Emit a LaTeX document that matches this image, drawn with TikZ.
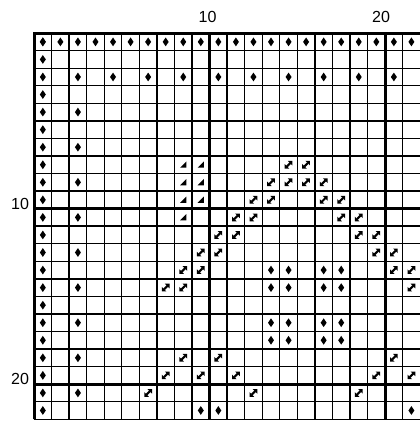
\documentclass[tikz,border=0pt]{standalone}
\usepackage{fontspec}
\setmainfont{Liberation Sans}

\tikzset{
  dia/.pic={\fill (-0.085,0) -- (0,0.125) -- (0.085,0) -- (0,-0.125) -- cycle;},
  tri/.pic={\fill (-0.09,-0.085) -- (0.09,-0.085) -- (0.09,0.095) -- cycle;},
  darr/.pic={
    \draw[line width=1.7pt] (-0.05,-0.05) -- (0.05,0.05);
    \fill (-0.11,-0.11) -- (0.02,-0.11) -- (-0.11,0.02) -- cycle;
    \fill (0.11,0.11) -- (-0.02,0.11) -- (0.11,-0.02) -- cycle;},
  lbl/.style={font=\fontsize{13}{15}\selectfont}
}

\begin{document}
\begin{tikzpicture}[scale=0.5]

\useasboundingbox (-1.94,1.886) rectangle (21.98,-22.1);

\draw[step=1cm,line width=1.1pt] (0,0) grid (22,-22);

\draw[line width=2.4pt] (0,-22) -- (0,0) -- (22,0);
\draw[line width=2.4pt] (10,0) -- (10,-22);
\draw[line width=2.4pt] (20,0) -- (20,-22);
\draw[line width=2.4pt] (0,-10) -- (22,-10);
\draw[line width=2.4pt] (0,-20) -- (22,-20);

\node[lbl] (top10) at (9.89,0.94) {10};
\node[lbl] (top20) at (19.77,0.94) {20};
\node[lbl] (left10) at (-0.8,-9.71) {10};
\node[lbl] (left20) at (-0.8,-19.69) {20};

% diamonds
\foreach \c in {1,...,22} {
  \pic at (\c-0.5,-0.5) {dia};
  \pic at (0.5,0.5-\c) {dia};
}
\foreach \c in {3,5,...,21}
  \pic at (\c-0.5,-2.5) {dia};
\foreach \r in {5,7,...,21}
  \pic at (2.5,0.5-\r) {dia};
\foreach \c in {14,15,17,18}
  \foreach \r in {14,15,17,18}
    \pic at (\c-0.5,0.5-\r) {dia};
\foreach \c in {10,11,22}
  \pic at (\c-0.5,-21.5) {dia};

% triangles
\foreach \c/\r in {9/8,10/8,9/9,10/9,9/10,10/10,9/11}
  \pic at (\c-0.5,0.5-\r) {tri};

% double arrows
\foreach \c/\r in {15/8,16/8,
  14/9,15/9,16/9,17/9,
  13/10,14/10,17/10,18/10,
  12/11,13/11,18/11,19/11,
  11/12,12/12,19/12,20/12,
  10/13,11/13,20/13,21/13,
  9/14,10/14,21/14,22/14,
  8/15,9/15,22/15,
  9/19,11/19,21/19,
  8/20,10/20,12/20,20/20,22/20,
  7/21,13/21,19/21}
  \pic at (\c-0.5,0.5-\r) {darr};

\end{tikzpicture}
\end{document}
